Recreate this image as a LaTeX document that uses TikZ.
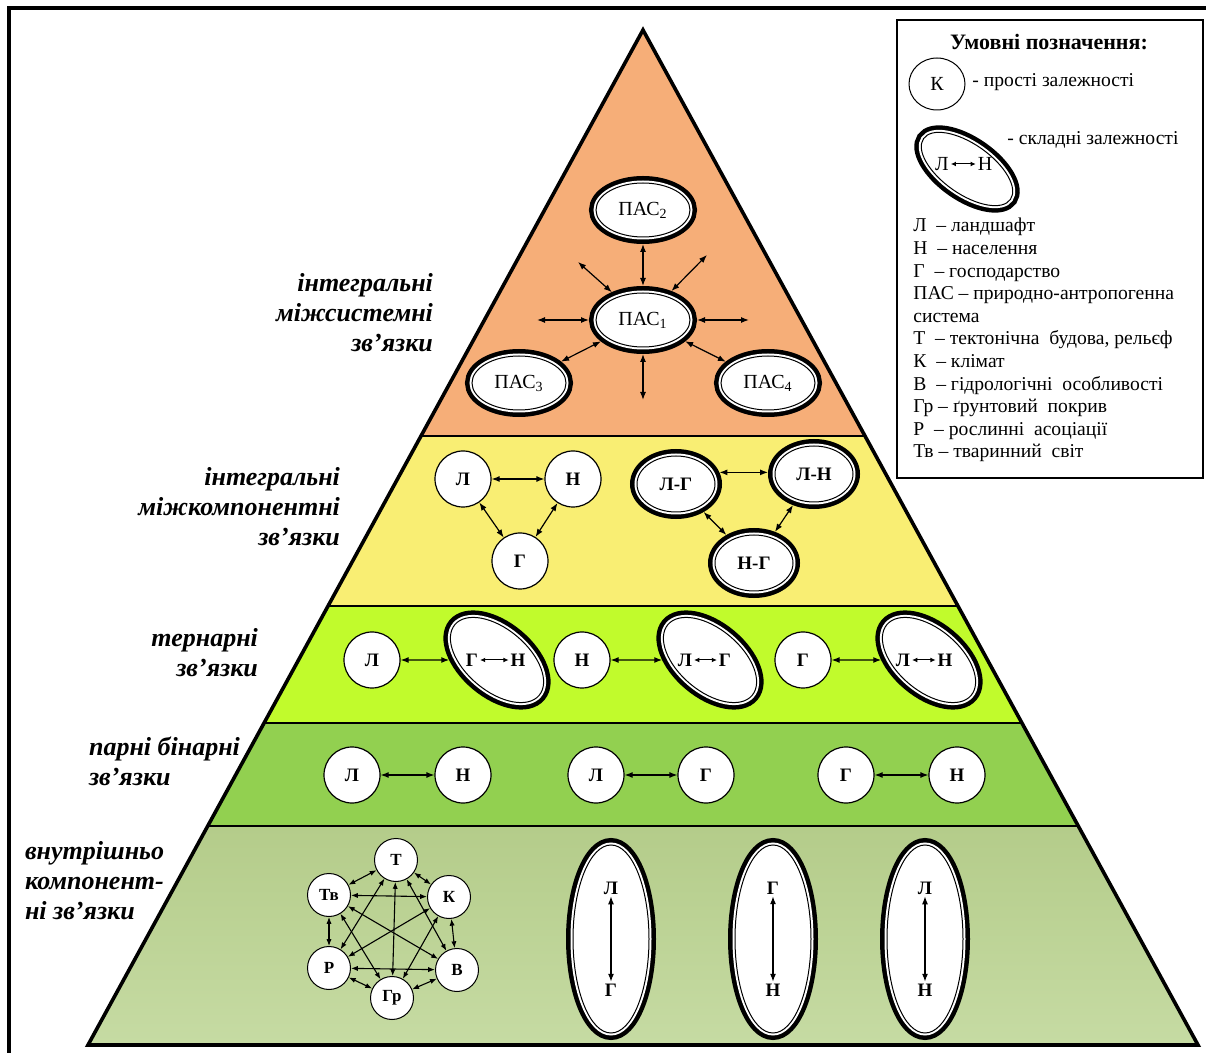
\documentclass[tikz,border=0pt]{standalone}
\usepackage{fontspec}
\setmainfont{Liberation Serif}
\usetikzlibrary{arrows.meta,shapes.geometric}
\definecolor{levelA}{HTML}{F6AE78}
\definecolor{levelB}{HTML}{F9EE73}
\definecolor{levelC}{HTML}{C1FB2C}
\definecolor{levelD}{HTML}{92D050}
\definecolor{levelEtop}{HTML}{B4CC8A}
\definecolor{levelEbot}{HTML}{C6DBA3}
\tikzset{%
  declare function={xl(\y)=643-0.5468*(\y-30); xr(\y)=643+0.5468*(\y-30);},
  % simple dependence
  simple dep/.style={circle, draw, fill=white, line width=0.6pt, minimum size=28pt,
    inner sep=0pt, font=\bfseries\fontsize{9.5}{11}\selectfont},
  % complex dependence: thick ring, white gap, thin line
  complex dep/.style={ellipse, fill=white, draw=white, line width=2.5pt,
    preaction={draw=black, line width=7pt},
    postaction={draw=black, line width=0.5pt},
    inner sep=0pt, outer sep=3.5pt},
  pas/.style={minimum width=47pt, minimum height=27pt, font=\fontsize{10}{12}\selectfont},
  pair/.style={minimum width=39pt, minimum height=28pt, font=\bfseries\fontsize{9.5}{11}\selectfont},
  tilted/.style={rotate=-40, minimum width=55pt, minimum height=31pt},
  tall/.style={minimum width=38pt, minimum height=94pt},
  hex dep/.style={circle, draw, fill=white, line width=0.5pt, minimum size=21.5pt,
    inner sep=0pt, font=\bfseries\fontsize{8.5}{10}\selectfont},
  letter/.style={inner sep=0.8pt, font=\bfseries\fontsize{9.5}{11}\selectfont},
  link/.style={<->, >={Latex[length=4pt,width=3pt]}, line width=0.6pt},
  link small/.style={<->, >={Latex[length=2.6pt,width=2.4pt]}, line width=0.5pt},
  link hex/.style={<->, >={Latex[length=3.4pt,width=2.6pt]}, line width=0.55pt},
  level label/.style={font=\bfseries\itshape\fontsize{13}{15}\selectfont},
  legend text/.style={font=\fontsize{9.8}{11.4}\selectfont, inner sep=0pt},
}

\begin{document}
\begin{tikzpicture}[x=0.5pt,y=-0.5pt]
  \useasboundingbox (0,0) rectangle (1206,1053);
  \draw[line width=1.6pt] (9,1053) -- (9,8) -- (1206,8);
  % pyramid levels
  \coordinate (apex) at (643,30);
  \coordinate (baseL) at (88,1045);
  \coordinate (baseR) at (1198,1045);
  \fill[levelA] (apex) -- ({xr(436)},436) -- ({xl(436)},436) -- cycle;
  \foreach \ya/\yb/\col in {436/606/levelB,606/723/levelC,723/826/levelD} {
    \fill[\col] ({xl(\ya)},\ya) -- ({xr(\ya)},\ya) -- ({xr(\yb)},\yb) -- ({xl(\yb)},\yb) -- cycle;
  }
  \shade[top color=levelEtop, bottom color=levelEbot]
    ({xl(826)},826) -- ({xr(826)},826) -- (baseR) -- (baseL) -- cycle;
  \foreach \y in {436,606,723,826} {
    \draw[line width=0.9pt] ({xl(\y)},\y) -- ({xr(\y)},\y);
  }
  \draw[line width=1.8pt, line join=miter] (baseL) -- (apex) -- (baseR) -- cycle;

  % level labels
  \node[level label, align=right, anchor=east] (labA) at (440,313) {інтегральні\\міжсистемні\\зв’язки};
  \node[level label, align=right, anchor=east] (labB) at (347,507) {інтегральні\\міжкомпонентні\\зв’язки};
  \node[level label, align=right, anchor=east] (labC) at (265,653) {тернарні\\зв’язки};
  \node[level label, align=left, anchor=west] (labD) at (82,761) {парні бінарні\\зв’язки};
  \node[level label, align=left, anchor=west] (labE) at (18,881) {внутрішньо\\компонент-\\ні зв’язки};

  % intersystem level
  \node[complex dep, pas] (P1) at (643,320) {ПАС\textsubscript{1}};
  \node[complex dep, pas] (P2) at (643,210) {ПАС\textsubscript{2}};
  \node[complex dep, pas] (P3) at (519,383) {ПАС\textsubscript{3}};
  \node[complex dep, pas] (P4) at (768,383) {ПАС\textsubscript{4}};
  \coordinate (P1w) at (537,320);
  \coordinate (P1e) at (749,320);
  \coordinate (P1s) at (643,400);
  \coordinate (P1nw) at (578,262);
  \coordinate (P1ne) at (707,255);
  \foreach \p in {P2,P3,P4,P1w,P1e,P1s,P1nw,P1ne} {
    \draw[link] (P1) -- (\p);
  }

  % intercomponent level
  \node[simple dep] (yL) at (463,479) {Л};
  \node[simple dep] (yN) at (573,479) {Н};
  \node[simple dep] (yG) at (520,561) {Г};
  \node[complex dep, pair] (yLG) at (676,484) {Л-Г};
  \node[complex dep, pair] (yLN) at (814,474) {Л-Н};
  \node[complex dep, pair] (yNG) at (754,563) {Н-Г};
  \foreach \a/\b in {yL/yN,yL/yG,yN/yG,yLG/yNG,yLN/yNG} {
    \draw[link] (\a) -- (\b);
  }
  \draw[link] (yLG.15) -- (yLG.15 -| yLN.west);

  % ternary level
  \foreach \s/\cx/\ex/\la/\lb/\ua/\ub [count=\i] in
      {Л/372/497/472/518/Г/Н, Н/582/710/685/725/Л/Г, Г/803/929/903/945/Л/Н} {
    \node[simple dep] (t\i) at (\cx,660) {\s};
    \node[complex dep, tilted] (te\i) at (\ex,660) {};
    \node[letter] (te\i a) at (\la,660) {\ua};
    \node[letter] (te\i b) at (\lb,660) {\ub};
    \draw[link] (t\i) -- (te\i);
    \draw[link small] (te\i a) -- (te\i b);
  }

  % binary level
  \foreach \xa/\xb/\ua/\ub [count=\i] in {352/463/Л/Н, 596/706/Л/Г, 846/957/Г/Н} {
    \node[simple dep] (ba\i) at (\xa,775) {\ua};
    \node[simple dep] (bb\i) at (\xb,775) {\ub};
    \draw[link] (ba\i) -- (bb\i);
  }

  % intracomponent level
  \node[hex dep] (hT) at (396,860) {Т};
  \node[hex dep] (hK) at (449,897) {К};
  \node[hex dep] (hV) at (457,970) {В};
  \node[hex dep] (hGr) at (392,998) {Гр};
  \node[hex dep] (hR) at (329,968) {Р};
  \node[hex dep] (hTv) at (329,895) {Тв};
  \foreach \a/\b in {hT/hK,hK/hV,hV/hGr,hGr/hR,hR/hTv,hTv/hT,hT/hV,hT/hGr,
      hT/hR,hK/hGr,hK/hR,hK/hTv,hV/hR,hV/hTv,hGr/hTv} {
    \draw[link hex] (\a) -- (\b);
  }
  \foreach \x/\ua/\ub [count=\i] in {611/Л/Г, 773/Г/Н, 925/Л/Н} {
    \node[complex dep, tall] (c\i) at (\x,939) {};
    \node[letter] (c\i a) at (\x,888) {\ua};
    \node[letter] (c\i b) at (\x,990) {\ub};
    \draw[link] (c\i a) -- (c\i b);
  }

  % legend
  \draw[line width=0.8pt] (897,20) rectangle (1203,478);
  \node[font=\bfseries\fontsize{11}{13}\selectfont] (legTitle) at (1049,42) {Умовні позначення:};
  \node[ellipse, draw, line width=0.5pt, minimum width=28pt, minimum height=26pt,
    font=\fontsize{10}{12}\selectfont] (legK) at (937,84) {К};
  \node[legend text, anchor=west] (legKtext) at (972,82) {- прості залежності};
  \node[complex dep, rotate=-35, minimum width=53pt, minimum height=25pt] (legE) at (967,169) {};
  \node[inner sep=0.8pt, font=\fontsize{10}{12}\selectfont] (legEa) at (942,164) {Л};
  \node[inner sep=0.8pt, font=\fontsize{10}{12}\selectfont] (legEb) at (985,164) {Н};
  \draw[link small] (legEa) -- (legEb);
  \node[legend text, anchor=west] (legEtext) at (1007,140) {- складні залежності};
  \foreach \t [count=\i] in {{Л\ \ – ландшафт}, {Н\ \ – населення}, {Г\ \ – господарство},
      {ПАС – природно-антропогенна}, {система}, {Т\ \ – тектонічна\ \ будова, рельєф},
      {К\ \ – клімат}, {В\ \ – гідрологічні\ \ особливості}, {Гр – ґрунтовий\ \ покрив},
      {Р\ \ – рослинні\ \ асоціації}, {Тв – тваринний\ \ світ}} {
    \node[legend text, anchor=base west] (leg\i) at (913,{209.4+22.6*\i}) {\t};
  }
\end{tikzpicture}
\end{document}
